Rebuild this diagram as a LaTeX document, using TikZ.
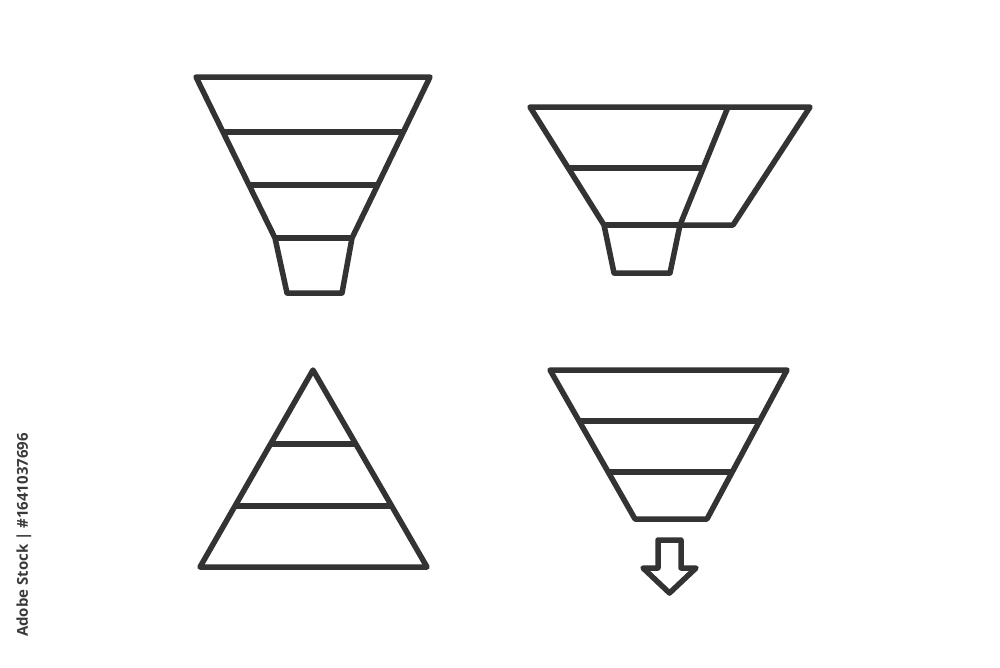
\documentclass[tikz,border=0pt]{standalone}
\usepackage{fontspec}
\newfontfamily\wmfont{Open Sans}
\begin{document}
\begin{tikzpicture}[x=1pt,y=-1pt,
  shape line/.style={draw=linegray,line width=5.5pt,line join=round,line cap=round},
  inner line/.style={draw=linegray,line width=5.5pt,line cap=butt}]
\definecolor{linegray}{HTML}{333333}
\definecolor{textgray}{HTML}{3A3A3A}
\useasboundingbox[fill=white] (0,0) rectangle (1000,667);

% ---- Funnel 1 (top left) ----
\coordinate (f1tl) at (196,77);
\coordinate (f1tr) at (430,77);
\coordinate (f1nr) at (352,238);
\coordinate (f1br) at (342,293);
\coordinate (f1bl) at (287,293);
\coordinate (f1nl) at (275,238);
\draw[shape line] (f1tl) -- (f1tr) -- (f1nr) -- (f1br) -- (f1bl) -- (f1nl) -- cycle;
\draw[inner line] (223,132) -- (403.4,132);
\draw[inner line] (249,185) -- (377.7,185);
\draw[inner line] (f1nl) -- (f1nr);

% ---- Funnel 2 (top right) ----
\coordinate (f2tl) at (530,107);
\coordinate (f2tr) at (810,107);
\coordinate (f2pr) at (733,225);
\coordinate (f2nr) at (680,225);
\coordinate (f2br) at (670,273);
\coordinate (f2bl) at (614,273);
\coordinate (f2nl) at (604,225);
\coordinate (f2dt) at (728,107);
\draw[shape line] (f2tl) -- (f2tr) -- (f2pr) -- (f2nr) -- (f2br) -- (f2bl) -- (f2nl) -- cycle;
\draw[inner line] (f2nl) -- (f2nr);
\draw[inner line] (f2dt) -- (f2nr);
\draw[inner line] (568.3,168) -- (703.2,168);

% ---- Pyramid (bottom left) ----
\coordinate (pt) at (313,370);
\coordinate (pr) at (427,567);
\coordinate (pl) at (200,567);
\draw[shape line] (pt) -- (pr) -- (pl) -- cycle;
\draw[inner line] (270.6,444) -- (355.8,444);
\draw[inner line] (235,506) -- (391.7,506);

% ---- Funnel 4 with arrow (bottom right) ----
\coordinate (f4tl) at (550,370);
\coordinate (f4tr) at (787,370);
\coordinate (f4br) at (707,519);
\coordinate (f4bl) at (635,519);
\draw[shape line] (f4tl) -- (f4tr) -- (f4br) -- (f4bl) -- cycle;
\draw[inner line] (579.1,421) -- (759.6,421);
\draw[inner line] (608.2,472) -- (732.2,472);

\draw[shape line] (658,540) -- (681,540) -- (681,568) -- (696,568) -- (669.5,593)
  -- (643,568) -- (658,568) -- cycle;

% ---- vertical stock id ----
\node[rotate=90,text=textgray,font=\wmfont\bfseries\fontsize{15}{18}\selectfont,inner sep=0pt]
  (stockid) at (24,535) {Adobe Stock | \#1641037696};
\end{tikzpicture}
\end{document}
